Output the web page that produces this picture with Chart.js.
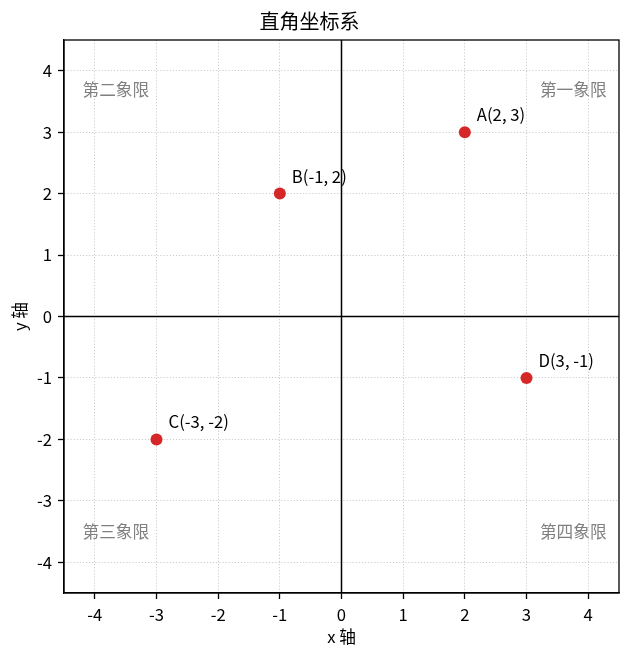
<!DOCTYPE html>
<html>
<head>
<meta charset="utf-8">
<script src="https://cdn.jsdelivr.net/npm/chart.js@4"></script>
<style>
  body { margin: 0; background: #fff; }
  #wrap { width: 630px; height: 657px; }
</style>
</head>
<body>
<div id="wrap"><canvas id="myChart"></canvas></div>
<script>
const pointNames = ["A", "B", "C", "D"];
const xValues = [2, -1, -3, 3];
const yValues = [3, 2, -2, -1];
const tickValues = [-4, -3, -2, -1, 0, 1, 2, 3, 4];
const quadrantNames = ["第一象限", "第二象限", "第三象限", "第四象限"];

const FONT = "'Noto Sans CJK SC', 'Noto Sans', sans-serif";
const TEXT_SIZE = 16.7;

// where the quadrant captions sit (data units) and how they are aligned
const quadrantSpots = [
  { x: 4.3, y: 3.7, align: "right" },
  { x: -4.2, y: 3.7, align: "left" },
  { x: -4.2, y: -3.5, align: "left" },
  { x: 4.3, y: -3.5, align: "right" },
];

const points = xValues.map((x, i) => ({ x: x, y: yValues[i] }));

const overlay = {
  id: "overlay",
  beforeDatasetsDraw(chart) {
    const { ctx, chartArea: a, scales } = chart;
    const x0 = scales.x.getPixelForValue(0);
    const y0 = scales.y.getPixelForValue(0);
    ctx.save();
    ctx.strokeStyle = "#000";
    ctx.lineWidth = 1.5;
    ctx.beginPath();
    ctx.moveTo(x0, a.top);
    ctx.lineTo(x0, a.bottom);
    ctx.moveTo(a.left, y0);
    ctx.lineTo(a.right, y0);
    ctx.stroke();

    // frame
    ctx.lineWidth = 1.3;
    ctx.strokeRect(a.left, a.top, a.right - a.left, a.bottom - a.top);

    ctx.fillStyle = "#808080";
    ctx.font = TEXT_SIZE + "px " + FONT;
    ctx.textBaseline = "middle";
    quadrantNames.forEach((name, i) => {
      const q = quadrantSpots[i];
      ctx.textAlign = q.align;
      ctx.fillText(name, scales.x.getPixelForValue(q.x), scales.y.getPixelForValue(q.y));
    });
    ctx.restore();
  },
  afterDatasetsDraw(chart) {
    const { ctx, scales } = chart;
    ctx.save();
    ctx.fillStyle = "#000";
    ctx.font = TEXT_SIZE + "px " + FONT;
    ctx.textAlign = "left";
    ctx.textBaseline = "alphabetic";
    pointNames.forEach((name, i) => {
      const px = scales.x.getPixelForValue(xValues[i]);
      const py = scales.y.getPixelForValue(yValues[i]);
      ctx.fillText(name + "(" + xValues[i] + ", " + yValues[i] + ")", px + 12, py - 11);
    });
    ctx.restore();
  },
};

const axisCommon = {
  type: "linear",
  min: -4.5,
  max: 4.5,
  afterBuildTicks: (s) => {
    s.ticks = tickValues.map((v) => ({ value: v }));
  },
  ticks: {
    color: "#000",
    padding: 6,
    font: { family: FONT, size: TEXT_SIZE },
    callback: (v) => String(v),
  },
  grid: {
    color: "#cccccc",
    lineWidth: 1,
    tickLength: 6,
    tickColor: "#000",
    tickWidth: 1.3,
  },
  border: { color: "#000", width: 1.3, dash: [1.2, 1.9] },
};

new Chart(document.getElementById("myChart"), {
  type: "scatter",
  data: {
    datasets: [
      {
        data: points,
        backgroundColor: "#d62728",
        borderWidth: 0,
        pointRadius: 6,
        pointHoverRadius: 6,
      },
    ],
  },
  options: {
    responsive: true,
    maintainAspectRatio: false,
    animation: false,
    layout: { padding: { left: 0, right: 11, top: 0, bottom: 0 } },
    plugins: {
      legend: { display: false },
      tooltip: { enabled: false },
      title: {
        display: true,
        text: "直角坐标系",
        color: "#000",
        font: { family: FONT, size: 20, weight: "normal" },
        padding: { top: 9, bottom: 7 },
      },
    },
    scales: {
      x: {
        ...axisCommon,
        position: "bottom",
        afterFit: (s) => { s.height = 64; },
        title: {
          display: true,
          text: "x 轴",
          color: "#000",
          font: { family: FONT, size: TEXT_SIZE },
          padding: { top: 4, bottom: 10 },
        },
      },
      y: {
        ...axisCommon,
        position: "left",
        afterFit: (s) => { s.width = 64; },
        title: {
          display: true,
          text: "y 轴",
          color: "#000",
          font: { family: FONT, size: TEXT_SIZE },
          padding: { top: 10, bottom: 4 },
        },
      },
    },
  },
  plugins: [overlay],
});
</script>
</body>
</html>
